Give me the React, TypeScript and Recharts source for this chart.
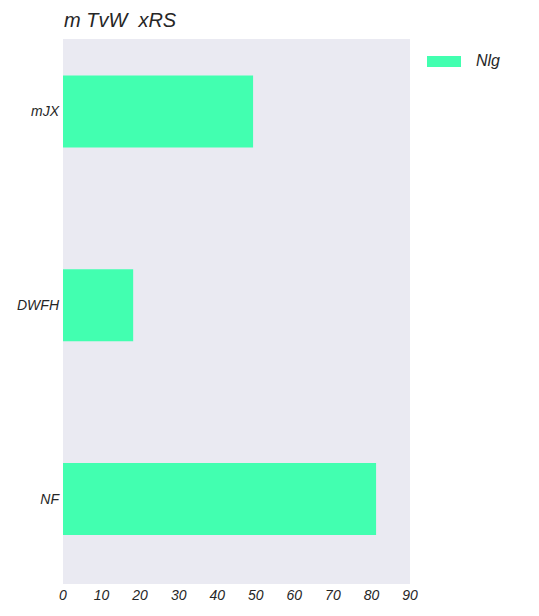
import { BarChart, Bar, XAxis, YAxis, CartesianGrid } from "recharts";

const categories = ["mJX", "DWFH", "NF"];
const nlgValues = [49.3, 18.2, 81.2];
const xTicks = [0, 10, 20, 30, 40, 50, 60, 70, 80, 90];

const BAR_COLOR = "#42ffb0";
const BG = "#eaeaf2";
const TEXT = "#262626";
const FONT = "'Liberation Sans', Arial, sans-serif";

// numeric y axis runs top-down in vertical layout, so index works directly
const data = categories.map((name, i) => ({
  name,
  pos: i,
  value: nlgValues[i],
}));

function LegendBox() {
  return (
    <div
      style={{
        position: "absolute",
        left: 427,
        top: 50,
        display: "flex",
        alignItems: "center",
        fontFamily: FONT,
      }}
    >
      <div style={{ width: 34, height: 11, background: BAR_COLOR }} />
      <span
        style={{
          marginLeft: 15,
          fontSize: 16,
          fontStyle: "italic",
          color: TEXT,
          lineHeight: "22px",
        }}
      >
        Nlg
      </span>
    </div>
  );
}

export default function App() {
  return (
    <div style={{ position: "absolute", left: 0, top: 0, width: 539, height: 616 }}>
      <div
        style={{
          position: "absolute",
          left: 64,
          top: 8,
          fontFamily: FONT,
          fontStyle: "italic",
          fontSize: 20,
          color: TEXT,
          whiteSpace: "pre",
          lineHeight: "24px",
        }}
      >
        {"m TvW  xRS"}
      </div>
      <BarChart
        width={539}
        height={616}
        data={data}
        layout="vertical"
        margin={{ top: 39, right: 129, bottom: 0, left: 0 }}
      >
        <CartesianGrid fill={BG} stroke="none" horizontal={false} vertical={false} />
        <XAxis
          type="number"
          domain={[0, 90]}
          ticks={xTicks}
          allowDataOverflow
          height={32}
          axisLine={false}
          tickLine={false}
          tickSize={0}
          tickMargin={6}
          interval={0}
          tick={{ fontSize: 14, fontStyle: "italic", fill: TEXT, fontFamily: FONT }}
        />
        <YAxis
          type="number"
          dataKey="pos"
          domain={[-0.374, 2.44]}
          ticks={[0, 1, 2]}
          allowDataOverflow
          width={63}
          axisLine={false}
          tickLine={false}
          tickSize={0}
          tickMargin={4}
          interval={0}
          tickFormatter={(v: number) => categories[v]}
          tick={{ fontSize: 14, fontStyle: "italic", fill: TEXT, fontFamily: FONT }}
        />
        <Bar dataKey="value" name="Nlg" fill={BAR_COLOR} barSize={72} isAnimationActive={false} />
      </BarChart>
      <LegendBox />
    </div>
  );
}
